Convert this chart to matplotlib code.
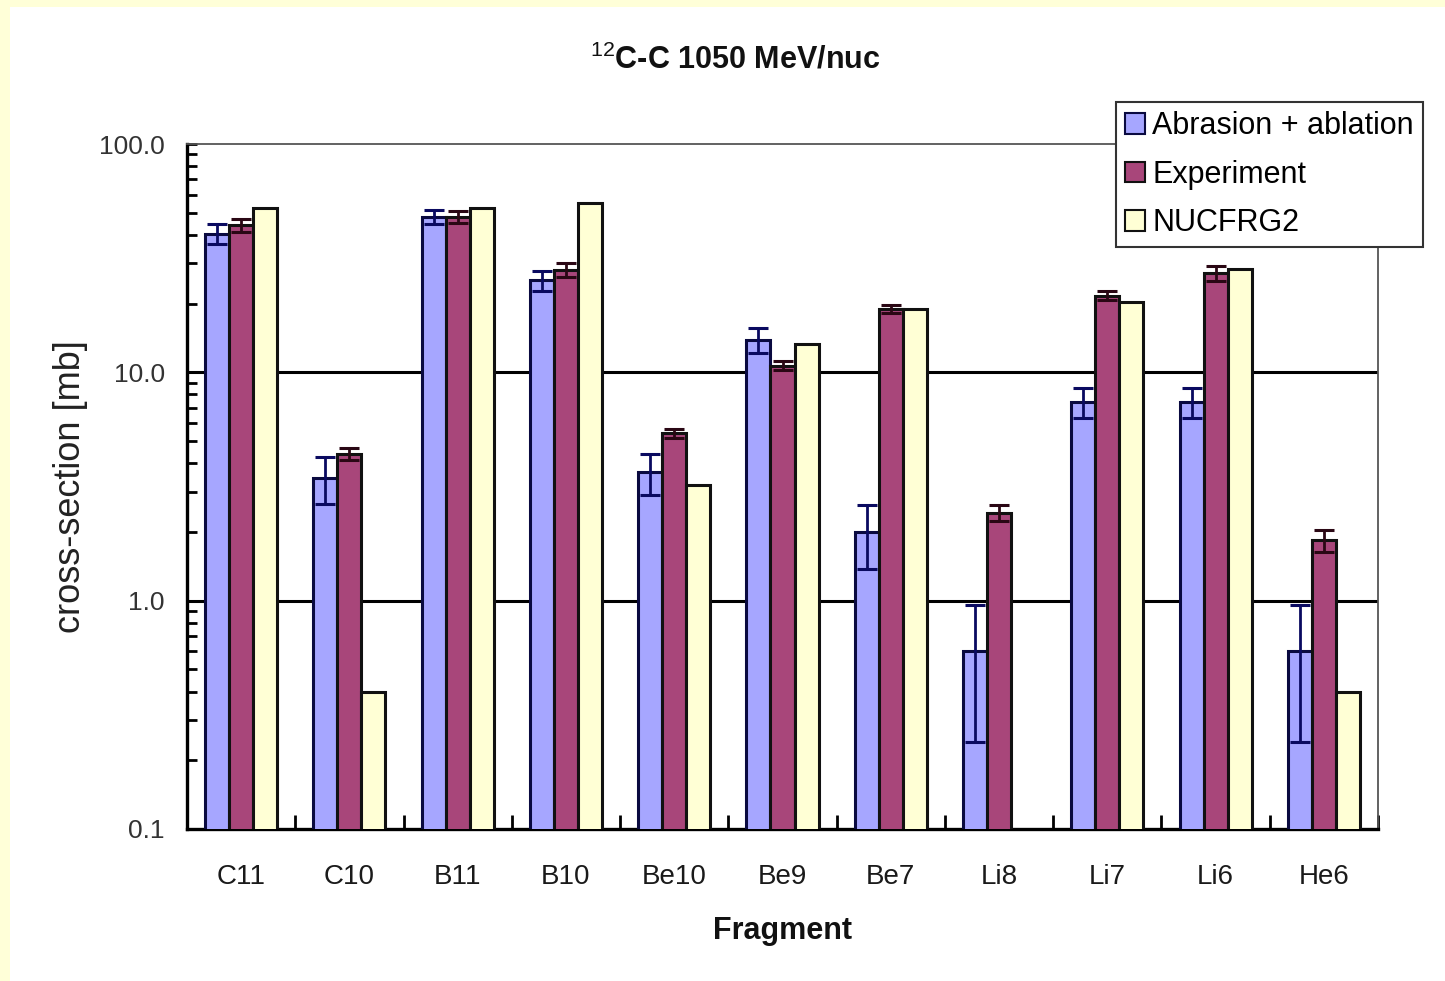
import numpy as np
import matplotlib
matplotlib.use("Agg")
import matplotlib.pyplot as plt
from matplotlib import font_manager
from matplotlib.patches import Rectangle
from matplotlib.ticker import FixedLocator, NullFormatter, LogLocator

# data
fragments = ["C11", "C10", "B11", "B10", "Be10", "Be9", "Be7", "Li8", "Li7", "Li6", "He6"]
abrasion = [40.5, 3.45, 48.0, 25.3, 3.65, 13.9, 2.0, 0.6, 7.4, 7.4, 0.6]
abrasion_err = [4.0, 0.8, 3.5, 2.5, 0.75, 1.7, 0.63, 0.36, 1.1, 1.1, 0.36]
experiment = [44.0, 4.4, 48.0, 28.2, 5.4, 10.7, 19.0, 2.43, 21.7, 27.2, 1.84]
experiment_err = [3.0, 0.25, 3.0, 2.0, 0.25, 0.5, 0.8, 0.2, 1.0, 2.0, 0.2]
nucfrg2 = [52.5, 0.4, 52.5, 55.0, 3.2, 13.3, 19.0, np.nan, 20.3, 28.4, 0.4]
series_names = ["Abrasion + ablation", "Experiment", "NUCFRG2"]
grid_levels = [1.0, 10.0]
ytick_values = [0.1, 1.0, 10.0, 100.0]
ytick_labels = ["0.1", "1.0", "10.0", "100.0"]

names = {f.name for f in font_manager.fontManager.ttflist}
narrow = "Liberation Sans Narrow" if "Liberation Sans Narrow" in names else "Liberation Sans"
plt.rcParams["font.family"] = [narrow, "DejaVu Sans"]
plt.rcParams["mathtext.fontset"] = "custom"
plt.rcParams["mathtext.rm"] = narrow
plt.rcParams["mathtext.bf"] = narrow + ":bold"

fig = plt.figure(figsize=(14.45, 9.81), dpi=100, facecolor="#FFFFD8")
fig.add_artist(Rectangle((10 / 1445, -0.05), 1.1, 1.05 - 7 / 981, transform=fig.transFigure,
                         facecolor="white", edgecolor="none", zorder=-10))
ax = fig.add_axes([187 / 1445, 1 - 829 / 981, (1378 - 187) / 1445, (829 - 144) / 981])
ax.set_facecolor("white")

x = np.arange(len(fragments))
w = 0.222
bar_kw = dict(linewidth=2.2, zorder=3)
b1 = ax.bar(x - w, abrasion, w, color="#A6A6FF", edgecolor="#0A0A40", **bar_kw)
b2 = ax.bar(x, experiment, w, color="#A8467A", edgecolor="#111111", **bar_kw)
b3 = ax.bar(x + w, nucfrg2, w, color="#FFFFD5", edgecolor="#111111", **bar_kw)

ax.errorbar(x - w, abrasion, yerr=abrasion_err, fmt="none", ecolor="#0A0A60",
            elinewidth=2.0, capsize=7, capthick=2.2, zorder=4)
ax.errorbar(x, experiment, yerr=experiment_err, fmt="none", ecolor="#2A0714",
            elinewidth=2.0, capsize=7, capthick=2.2, zorder=4)

for g in grid_levels:
    ax.axhline(g, color="black", linewidth=2.2, zorder=1)

ax.set_yscale("log")
ax.set_ylim(0.1, 100)
ax.set_xlim(-0.5, len(fragments) - 0.5)

ax.yaxis.set_major_locator(FixedLocator(ytick_values))
ax.set_yticks(ytick_values, ytick_labels)
ax.yaxis.set_minor_locator(LogLocator(base=10, subs=np.arange(2, 10)))
ax.yaxis.set_minor_formatter(NullFormatter())
ax.tick_params(axis="y", which="both", direction="in", length=7, width=2.0,
               labelsize=19, labelcolor="#333333", pad=16)

ax.set_xticks(np.arange(len(fragments) + 1) - 0.5)
ax.set_xticklabels([])
ax.set_xticks(x, fragments, minor=True)
ax.tick_params(axis="x", which="major", direction="in", length=10, width=2.0)
ax.tick_params(axis="x", which="minor", length=0, labelsize=20, pad=25, labelcolor="#1a1a1a")

for s in ["left", "bottom"]:
    ax.spines[s].set_linewidth(2.4)
    ax.spines[s].set_color("black")
for s in ["top", "right"]:
    ax.spines[s].set_linewidth(1.3)
    ax.spines[s].set_color("#555555")

ax.set_ylabel("cross-section [mb]", fontsize=26, color="#222222", labelpad=8)
ax.set_xlabel("Fragment", fontsize=22, fontweight="bold", labelpad=19, color="#111111")
fig.text(735 / 1445, 1 - 60 / 981, r"$^{12}$C-C 1050 MeV/nuc", fontsize=22,
         fontweight="bold", ha="center", va="center", color="#111111")

leg = ax.legend([b1, b2, b3], series_names, loc="upper right", bbox_to_anchor=(1.038, 1.061),
                borderaxespad=0, fontsize=22, frameon=True, fancybox=False, framealpha=1,
                edgecolor="#333333", handlelength=0.65, handleheight=0.65, handletextpad=0.25,
                labelspacing=0.6, borderpad=0.3)
leg.get_frame().set_linewidth(1.5)
for h in leg.legend_handles:
    h.set_linewidth(1.5)

fig.savefig("out.png", dpi=100, facecolor=fig.get_facecolor())
